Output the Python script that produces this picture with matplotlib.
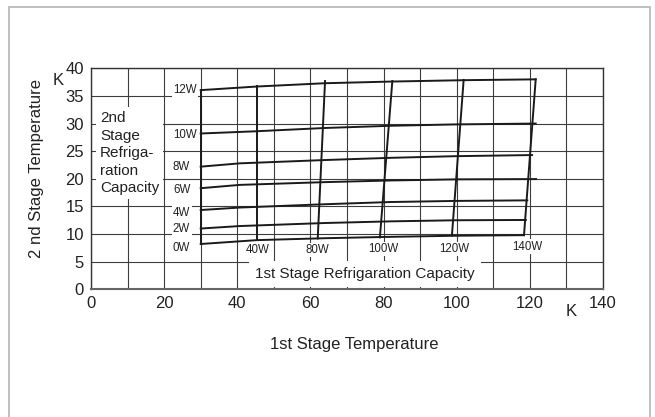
# -*- coding: utf-8 -*-
import matplotlib
matplotlib.use('Agg')
import matplotlib.pyplot as plt
from matplotlib.patches import Rectangle

plt.rcParams['font.family'] = ['Liberation Sans', 'DejaVu Sans']

# 2nd stage capacity curves (x: 1st stage temp, y: 2nd stage temp)
cap2_names = ['0W', '2W', '4W', '6W', '8W', '10W', '12W']
cap2_x = [
    [30, 45.3, 64, 82, 100, 118.4],
    [30, 40.7, 64, 82, 100, 118.9],
    [30, 40.7, 64, 82, 100, 119.3],
    [30, 40.7, 64, 82, 100, 121.7],
    [30, 40.7, 64, 82, 100, 120.6],
    [30, 45.0, 64, 82, 100, 121.6],
    [30, 45.3, 64, 82, 102, 121.6],
]
cap2_y = [
    [8.2, 8.9, 9.25, 9.5, 9.7, 9.8],
    [11.0, 11.45, 12.0, 12.3, 12.5, 12.55],
    [14.35, 14.8, 15.4, 15.8, 16.0, 16.1],
    [18.3, 18.9, 19.4, 19.7, 19.9, 19.95],
    [22.2, 22.8, 23.4, 23.8, 24.1, 24.3],
    [28.2, 28.6, 29.2, 29.6, 29.85, 30.0],
    [36.05, 36.7, 37.3, 37.6, 37.85, 38.0],
]
cap2_label_y = [7.5, 10.9, 13.9, 17.9, 22.1, 27.9, 36.0]

# 1st stage capacity lines (bottom point -> top point)
cap1_names = ['', '40W', '80W', '100W', '120W', '140W']
cap1_x = [[30, 30], [45.3, 45.3], [62.0, 64.0], [79.0, 82.4], [98.7, 101.9], [118.4, 121.6]]
cap1_y = [[8.2, 36.05], [8.9, 36.8], [9.2, 37.7], [9.4, 37.7], [9.8, 37.9], [9.8, 38.0]]
cap1_label_x = [None, 45.7, 61.9, 79.8, 99.4, 119.4]
cap1_label_y = [None, 7.1, 7.1, 7.3, 7.3, 7.7]

fig = plt.figure(figsize=(6.55, 4.17), dpi=100)
ax = fig.add_axes([0.1389, 0.3062, 0.7817, 0.530])

# 外框
fig.patches.append(Rectangle((0.0145, -0.02), 0.9779, 1.0025, transform=fig.transFigure,
                             fill=False, edgecolor='#bbbbbb', linewidth=1.3))

ax.set_xlim(0, 140)
ax.set_ylim(0, 40)
ax.set_xticks(range(0, 141, 20))
ax.set_yticks(range(0, 41, 5))
ax.set_xticks(range(0, 141, 10), minor=True)
ax.tick_params(which='both', length=0, labelsize=12, colors='#222222', pad=5)
ax.set_axisbelow(True)
ax.grid(which='both', color='#3d3d3d', linewidth=0.8)
for s in ax.spines.values():
    s.set_color('#333333')
    s.set_linewidth(1.0)
ax.spines['bottom'].set_color('#666666')
ax.spines['bottom'].set_linewidth(1.5)

for xs, ys in zip(cap2_x, cap2_y):
    ax.plot(xs, ys, color='#1a1a1a', linewidth=1.4, zorder=3)
for xs, ys in zip(cap1_x, cap1_y):
    ax.plot(xs, ys, color='#1a1a1a', linewidth=1.4, zorder=3)

wbox = dict(facecolor='white', edgecolor='none', pad=1.0)
for name, y in zip(cap2_names, cap2_label_y):
    ax.text(22.4, y, name, fontsize=8.3, ha='left', va='center', color='#222222',
            bbox=wbox, zorder=1.5)
for name, x, y in zip(cap1_names, cap1_label_x, cap1_label_y):
    if name:
        ax.text(x, y, name, fontsize=8.3, ha='center', va='center', color='#222222',
                bbox=wbox, zorder=1.5)

ax.text(2.5, 24.65, '2nd\nStage\nRefriga-\nration\nCapacity', fontsize=11,
        ha='left', va='center', color='#222222', linespacing=1.32,
        bbox=dict(facecolor='white', edgecolor='none', boxstyle='square,pad=0.25'), zorder=1.5)
ax.text(74.9, 2.77, '1st Stage Refrigaration Capacity', fontsize=11,
        ha='center', va='center', color='#222222',
        bbox=dict(facecolor='white', edgecolor='none', boxstyle='square,pad=0.4'), zorder=1.5)

# 單位 K
ax.text(-8.9, 37.75, 'K', fontsize=12, ha='center', va='center', color='#222222', clip_on=False)
ax.text(131.3, -4.05, 'K', fontsize=12, ha='center', va='center', color='#222222', clip_on=False)

fig.text(354.6 / 655, 1 - 344.6 / 417, '1st Stage Temperature', fontsize=12,
         ha='center', va='center', color='#222222')
fig.text(36.7 / 655, 1 - 169 / 417, '2 nd Stage Temperature', fontsize=12, rotation=90,
         ha='center', va='center', color='#222222')

fig.savefig('out.png', dpi=100)
